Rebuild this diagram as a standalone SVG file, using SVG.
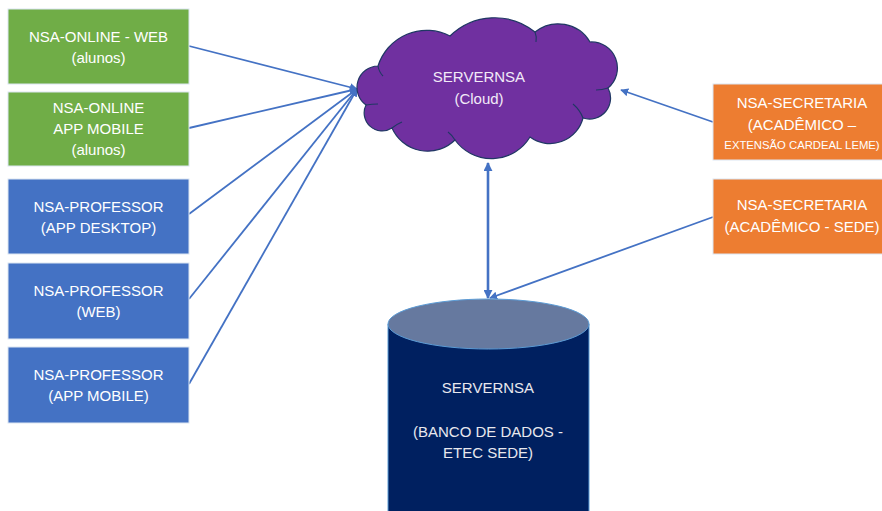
<svg xmlns="http://www.w3.org/2000/svg" width="882" height="511" viewBox="0 0 882 511">
<defs>
<style>
.box{stroke:#DCE6F2;stroke-width:1}
.green{fill:#70AD47}
.blue{fill:#4472C4}
.orange{fill:#ED7D31}
.t{font-family:"Liberation Sans",Arial,sans-serif;font-size:15px;fill:#FFFFFF;text-anchor:middle}
.ts{font-size:11.3px}
.conn{stroke:#4472C4;stroke-width:1.8;fill:none}
.inner{fill:none;stroke:#203864;stroke-width:1.1}
</style>
<marker id="ah" viewBox="0 0 10 10" refX="9" refY="5" markerWidth="8" markerHeight="8" markerUnits="userSpaceOnUse" orient="auto-start-reverse">
<path d="M0,0 L10,5 L0,10 Z" fill="#4472C4"/>
</marker>
<marker id="ah2" viewBox="0 0 10 10" refX="9" refY="5" markerWidth="9" markerHeight="9" markerUnits="userSpaceOnUse" orient="auto-start-reverse">
<path d="M0,0 L10,5 L0,10 Z" fill="#4472C4"/>
</marker>
</defs>
<rect width="882" height="511" fill="#FFFFFF"/>

<g id="connectors">
<line class="conn" x1="189" y1="46" x2="357" y2="89" marker-end="url(#ah)"/>
<line class="conn" x1="189" y1="128" x2="357" y2="89" marker-end="url(#ah)"/>
<line class="conn" x1="189" y1="214" x2="357" y2="89" marker-end="url(#ah)"/>
<line class="conn" x1="189" y1="299" x2="357" y2="89" marker-end="url(#ah)"/>
<line class="conn" x1="189" y1="384" x2="357" y2="89" marker-end="url(#ah)"/>
<line class="conn" x1="713" y1="122" x2="621" y2="90" marker-end="url(#ah)"/>
<line class="conn" x1="713" y1="217" x2="490" y2="298" marker-end="url(#ah)"/>
<line class="conn" style="stroke-width:2.6" x1="488" y1="163" x2="488" y2="298" marker-start="url(#ah2)" marker-end="url(#ah2)"/>
</g>

<g id="cloud">
<path d="M378,66 A51,51 0 0 1 450,36 A64,64 0 0 1 535,32 A37,37 0 0 1 590,42 A26,26 0 0 1 608,88 A21,21 0 0 1 583,118 A34,34 0 0 1 530,137 A45,45 0 0 1 455,140 A39,39 0 0 1 392,128 A18,18 0 0 1 366,105 A21.5,21.5 0 0 1 378,66 Z" fill="#7030A0" stroke="#203864" stroke-width="1.2"/>
<path class="inner" d="M378,66 Q379,72 383,76"/>
<path class="inner" d="M535,32 Q537,37 536,42"/>
<path class="inner" d="M608,88 Q602,90 596,90"/>
<path class="inner" d="M583,118 Q580,110 573,104"/>
<path class="inner" d="M455,140 Q452,135 448,132"/>
<path class="inner" d="M392,128 Q397,124 402,122"/>
<path class="inner" d="M366,105 Q372,104 378,104"/>
<text class="t" x="479" y="82" style="fill:#F2EAF8">SERVERNSA</text>
<text class="t" x="479" y="104" style="fill:#F2EAF8">(Cloud)</text>
</g>

<g id="database">
<path d="M388,324 L388,520 A100.5,25 0 0 0 589,520 L589,324 Z" fill="#002060" stroke="#5B9BD5" stroke-width="1"/>
<ellipse cx="488.5" cy="324" rx="100.5" ry="25" fill="#66799F" stroke="#5B9BD5" stroke-width="1"/>
<text class="t" x="488" y="393" style="fill:#E8E8EE">SERVERNSA</text>
<text class="t" x="488" y="437" style="fill:#E8E8EE">(BANCO DE DADOS -</text>
<text class="t" x="488" y="458" style="fill:#E8E8EE">ETEC SEDE)</text>
</g>

<g id="nsa-online-web">
<rect class="box green" x="8" y="9" width="181" height="75"/>
<text class="t" x="98.5" y="42">NSA-ONLINE - WEB</text>
<text class="t" x="98.5" y="63">(alunos)</text>
</g>

<g id="nsa-online-app">
<rect class="box green" x="8" y="92" width="181" height="74"/>
<text class="t" x="98.5" y="113">NSA-ONLINE</text>
<text class="t" x="98.5" y="134">APP MOBILE</text>
<text class="t" x="98.5" y="155">(alunos)</text>
</g>

<g id="nsa-professor-desktop">
<rect class="box blue" x="8" y="179" width="181" height="75"/>
<text class="t" x="98.5" y="212">NSA-PROFESSOR</text>
<text class="t" x="98.5" y="233">(APP DESKTOP)</text>
</g>

<g id="nsa-professor-web">
<rect class="box blue" x="8" y="263" width="181" height="76"/>
<text class="t" x="98.5" y="296">NSA-PROFESSOR</text>
<text class="t" x="98.5" y="317">(WEB)</text>
</g>

<g id="nsa-professor-mobile">
<rect class="box blue" x="8" y="347" width="181" height="76"/>
<text class="t" x="98.5" y="380">NSA-PROFESSOR</text>
<text class="t" x="98.5" y="401">(APP MOBILE)</text>
</g>

<g id="nsa-secretaria-extensao">
<rect class="box orange" x="713" y="84" width="178" height="76"/>
<text class="t" x="802" y="108">NSA-SECRETARIA</text>
<text class="t" x="802" y="130">(ACADÊMICO –</text>
<text class="t ts" x="802" y="149">EXTENSÃO CARDEAL LEME)</text>
</g>

<g id="nsa-secretaria-sede">
<rect class="box orange" x="713" y="179" width="178" height="75"/>
<text class="t" x="802" y="210">NSA-SECRETARIA</text>
<text class="t" x="802" y="232">(ACADÊMICO - SEDE)</text>
</g>
</svg>
